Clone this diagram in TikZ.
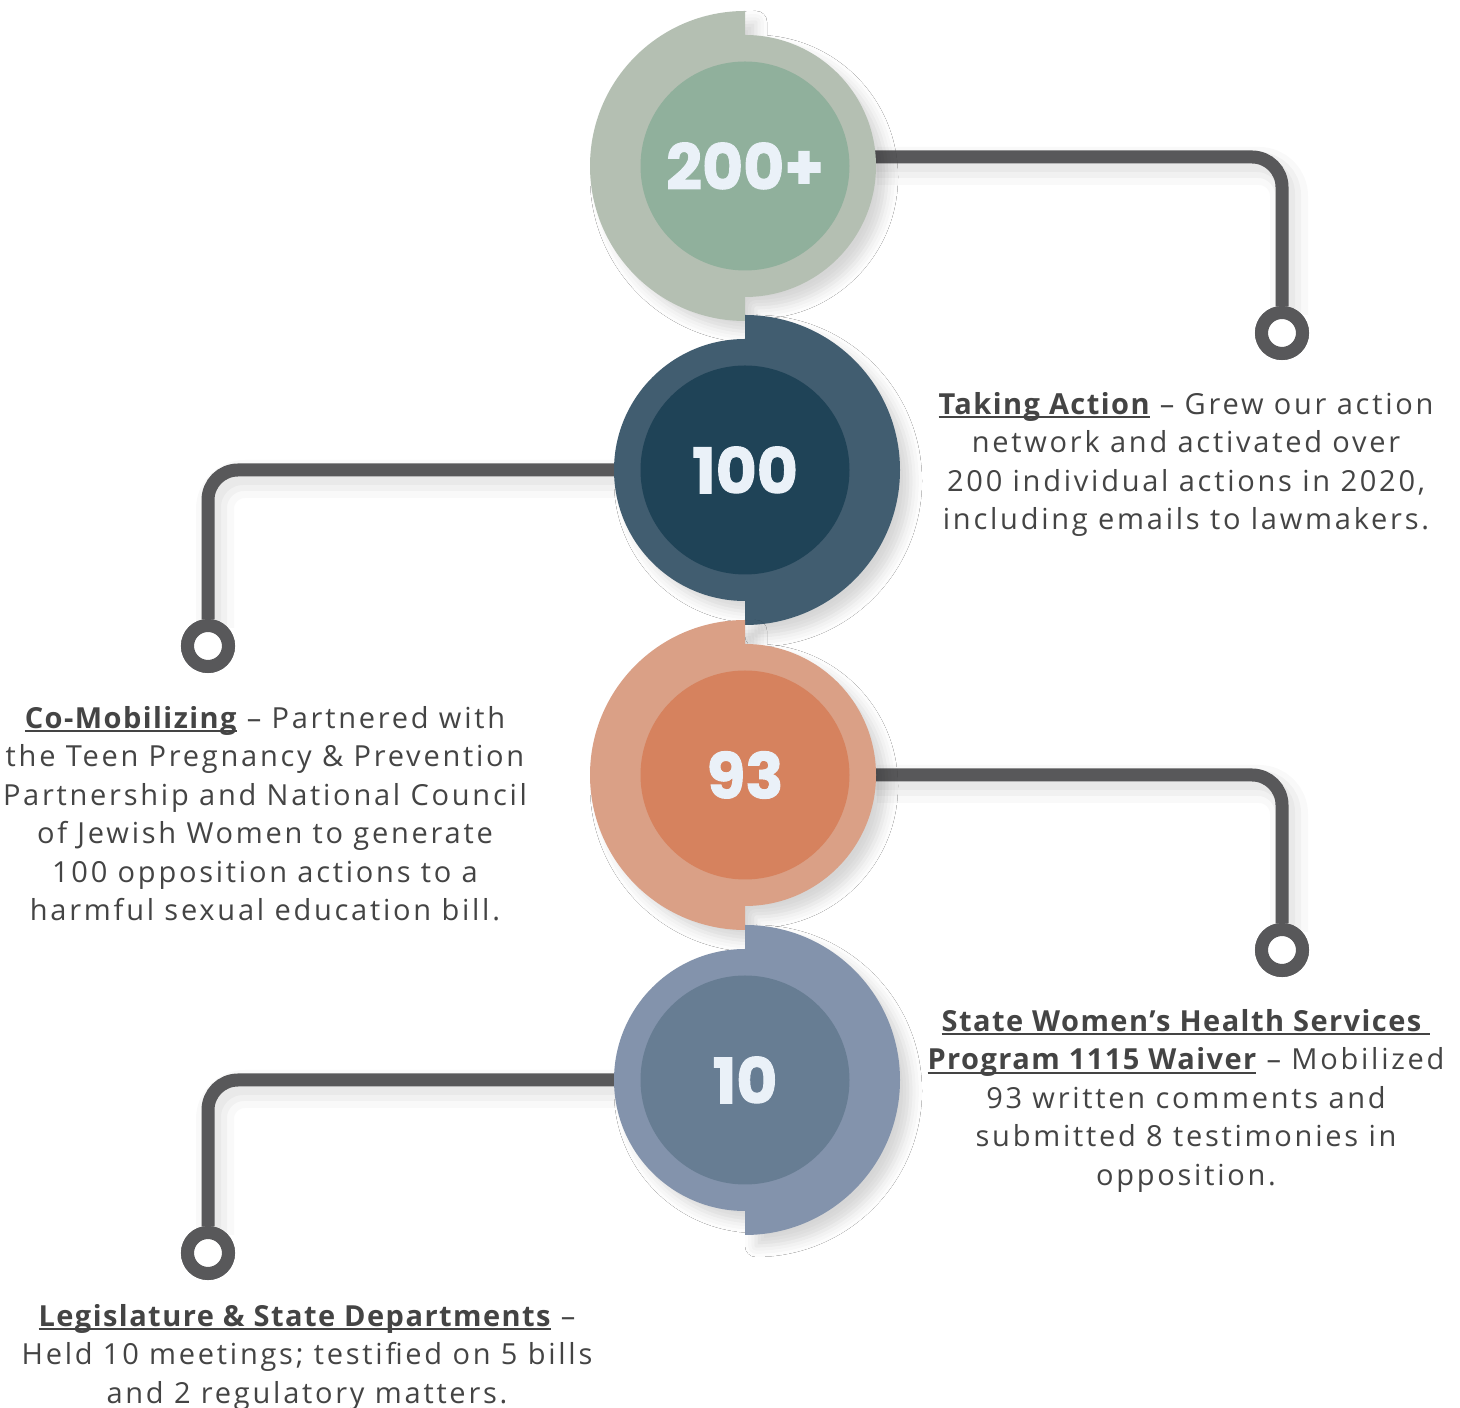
\documentclass[tikz,border=0pt]{standalone}
\usepackage{fontspec}
\setmainfont{Open Sans}[LetterSpace=9.5, BoldFeatures={LetterSpace=5}]
\newfontfamily\numfont{Poppins}[BoldFeatures={FakeBold=1.5}]
\usetikzlibrary{shadows.blur}
\definecolor{oA}{HTML}{B4BFB2}\definecolor{iA}{HTML}{90B09C}
\definecolor{oB}{HTML}{415D70}\definecolor{iB}{HTML}{1F4357}
\definecolor{oC}{HTML}{DAA086}\definecolor{iC}{HTML}{D6825E}
\definecolor{oD}{HTML}{8393AC}\definecolor{iD}{HTML}{677D93}
\definecolor{linec}{HTML}{58585A}
\definecolor{txt}{HTML}{444444}
\definecolor{numc}{HTML}{EAF1F8}
\newcommand\myul[1]{\setbox0\hbox{#1}\rlap{\rule[-4pt]{\wd0}{1.8pt}}\box0{}}
\tikzset{
  conn/.style={line width=13pt, draw=linec, rounded corners=30pt,
    preaction={draw=black, draw opacity=0.025, line width=38pt, transform canvas={shift={(7pt,-9pt)}}},
    preaction={draw=black, draw opacity=0.03, line width=26pt, transform canvas={shift={(6pt,-8pt)}}},
    preaction={draw=black, draw opacity=0.03, line width=16pt, transform canvas={shift={(5pt,-7pt)}}}},
  ring/.style={circle, draw=linec, line width=13pt, fill=white, minimum size=41pt, inner sep=0pt},
  inner/.style={circle, minimum size=209pt, inner sep=0pt, text=numc, font=\numfont\bfseries\fontsize{63}{63}\selectfont},
  shad/.style={blur shadow={shadow xshift=11pt, shadow yshift=-11pt, shadow blur radius=11pt, shadow opacity=16}},
  desc/.style={align=center, text=txt, inner sep=0pt, font=\fontsize{29}{38.5}\selectfont}
}
\begin{document}
\begin{tikzpicture}[x=1pt,y=1pt]
\useasboundingbox[fill=white] (0,0) rectangle (1460,1408);
% connectors
\coordinate (s1) at (870,1251);
\coordinate (s2) at (620,938);
\coordinate (s3) at (870,633);
\coordinate (s4) at (620,328);
\node[ring] (k1) at (1282,1075) {};
\node[ring] (k2) at (208,762) {};
\node[ring] (k3) at (1282,458) {};
\node[ring] (k4) at (208,155) {};
\draw[conn] (s1) -| (k1.north);
\draw[conn] (s2) -| (k2.north);
\draw[conn] (s3) -| (k3.north);
\draw[conn] (s4) -| (k4.north);
\node[ring] at (k1) {};
\node[ring] at (k2) {};
\node[ring] at (k3) {};
\node[ring] at (k4) {};
% circle 1
\fill[oA, shad] (745,1397) arc[start angle=90, end angle=270, radius=155] -- (745,1111) arc[start angle=-90, end angle=90, radius=131] -- cycle;
\node[inner, fill=iA] (c1) at (745,1242) {200+};
% circle 2
\fill[oB, shad] (745,1069) arc[start angle=90, end angle=270, radius=131] -- (745,783) arc[start angle=-90, end angle=90, radius=155] -- cycle;
\node[inner, fill=iB] (c2) at (745,938) {100};
% circle 3
\fill[oC, shad] (745,788) arc[start angle=90, end angle=270, radius=155] -- (745,502) arc[start angle=-90, end angle=90, radius=131] -- cycle;
\node[inner, fill=iC] (c3) at (745,633) {93};
% circle 4
\fill[oD, shad] (745,459) arc[start angle=90, end angle=270, radius=131] -- (745,173) arc[start angle=-90, end angle=90, radius=155] -- cycle;
\node[inner, fill=iD] (c4) at (745,328) {10};
% texts
\node[desc, anchor=north] (t1) at (1186,1016) {\myul{\bfseries Taking Action} -- Grew our action\\network and activated over\\200 individual actions in 2020,\\including emails to lawmakers.};
\node[desc, anchor=north] (t2) at (265,702) {\myul{\bfseries Co-Mobilizing} -- Partnered with\\the Teen Pregnancy \& Prevention\\Partnership and National Council\\of Jewish Women to generate\\100 opposition actions to a\\harmful sexual education bill.};
\node[desc, anchor=north] (t3) at (1186,399) {\myul{\bfseries State Women’s Health Services\ }\\\myul{\bfseries Program 1115 Waiver} -- Mobilized\\93 written comments and\\submitted 8 testimonies in\\opposition.};
\node[desc, anchor=north] (t4) at (307,104) {\myul{\bfseries Legislature \& State Departments} --\\Held 10 meetings; testified on 5 bills\\and 2 regulatory matters.};
\end{tikzpicture}
\end{document}
